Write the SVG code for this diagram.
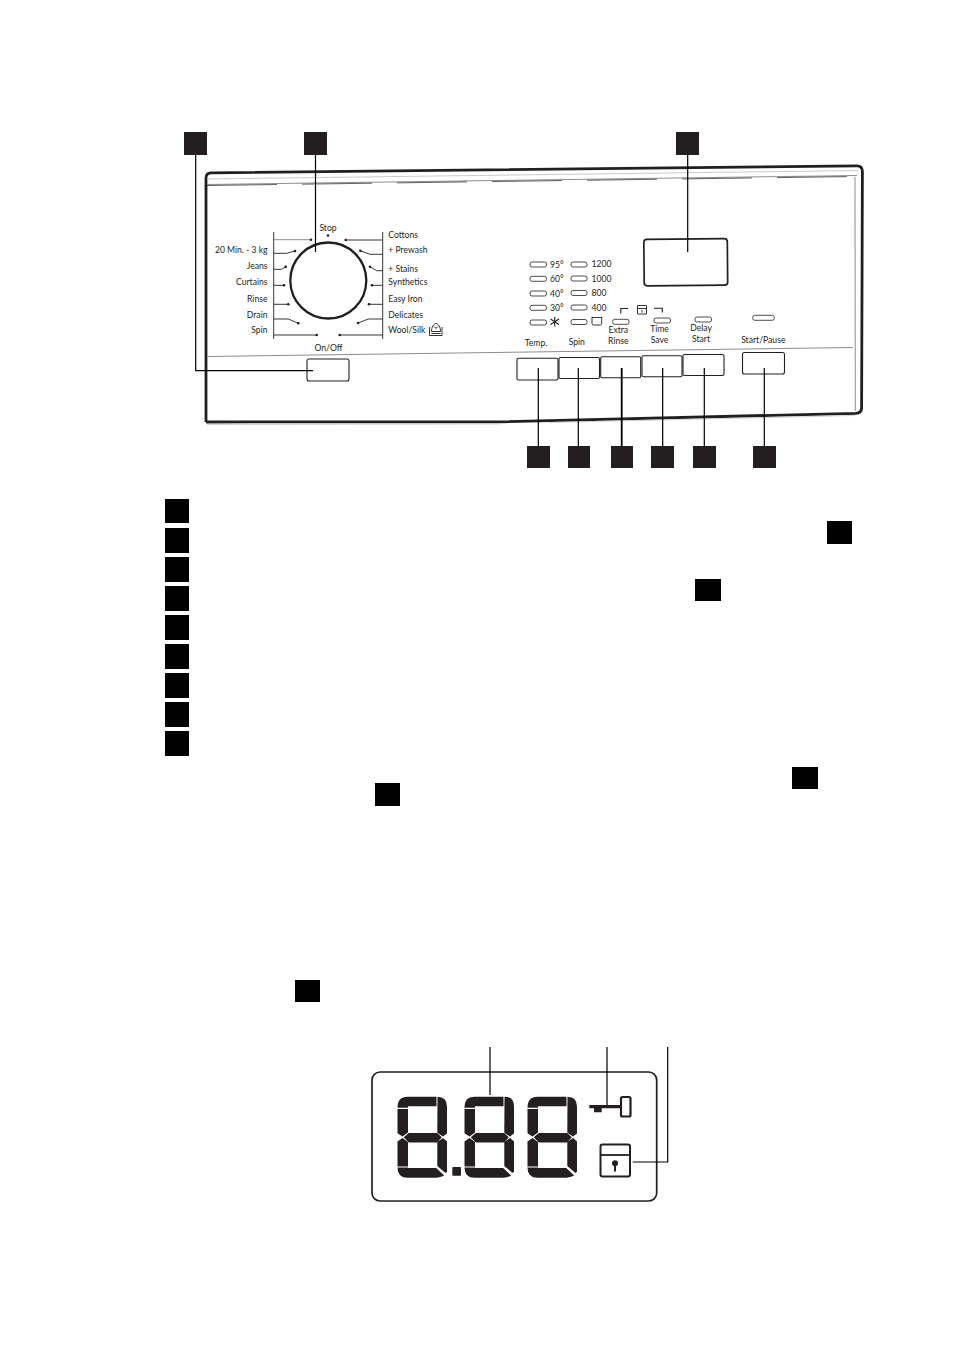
<svg xmlns="http://www.w3.org/2000/svg" width="954" height="1351" viewBox="0 0 954 1351">
<style>
text{font-family:"Lato","Liberation Sans",sans-serif;font-size:8.6px;fill:#231f20}
.e{text-anchor:end}.m{text-anchor:middle}
.sq{fill:#000}.bk{fill:#231f20}
.l{fill:none;stroke:#231f20;stroke-width:1.1}
.g{fill:none;stroke:#8f8d8d;stroke-width:1}
.led{fill:#fff;stroke:#231f20;stroke-width:.8}
.btn{fill:#fff;stroke:#231f20;stroke-width:1.1}
.tick{fill:none;stroke:#231f20;stroke-width:.9}
.dot{fill:#231f20}
.conn{fill:none;stroke:#000;stroke-width:1.2}
.conn2{fill:none;stroke:#000;stroke-width:1.8}
</style>
<defs>
<g id="digit" fill="#231f20">
<path d="M0,11Q0,0 10,0L39,0L39,9.5L10.5,9.5L10.5,11Z"/>
<path d="M40,0Q49.5,0 49.5,10L49.5,36.8L45.5,39.8L39.8,36L40,0Z"/>
<path d="M0,12.3L10.5,12.3L10.5,35.7L5,39.7L0,36.5Z"/>
<path d="M6.3,40.5L11.3,36.3L39.7,36.3L44.3,40.5L39.7,45.7L11.3,45.7Z"/>
<path d="M0,44.8L5,41.3L10.5,45.3L10.5,69.7L0,69.7Z"/>
<path d="M39.8,45.3L45.5,41.3L49.5,44.8L49.5,74.5L48,76.3L39.8,69.3Z"/>
<path d="M0,70.7L10.5,70.7L10.5,71.3L38.7,71.3L46.7,78.9Q43,81 39,81L10,81Q0,81 0,70.7Z"/>
</g>
</defs>
<g id="panel">
<path d="M206,422V178Q206,173 211,172.8L857,165.8Q862,165.8 862.4,171L861.6,408Q861.5,413 856,413.3L500,421.8L206,422" fill="none" stroke="#231f20" stroke-width="2.8"/>
<path d="M207,184.5L857,175.5" class="g"/>
<path d="M207,185.5L857,176.5" fill="none" stroke="#231f20" stroke-width=".7" stroke-dasharray="70 25"/>
<path d="M207,179L858,170.5" fill="none" stroke="#b5b3b3" stroke-width=".7"/>
<path d="M855,177L855.3,411" class="g"/>
<path d="M207,356.5L853,347.5" class="g"/>
<path d="M207,424.5L500,424M550,422.5L855,415.5" fill="none" stroke="#c9c8c8" stroke-width=".8"/>
</g>
<g id="dial">
<circle cx="328.3" cy="280.5" r="38" fill="#fff" stroke="#231f20" stroke-width="2.3"/>
<path class="tick" d="M273.7,232V339M382.7,232V339"/>
<path class="g" d="M274,239.7H310.5"/>
<path class="tick" d="M274,253.3H286.7L295,251M274,269.3H281.7L285.7,266.7M274,285.3H284M274,304.3H288.3M274,319H288.3L298.3,323.3M274,335H316.7M382.7,240H345.7M382.7,254.3H370L360.3,250.7M382.7,270.7H376.7L370,266.7M382.7,285.3H372M382.7,304.3H369M382.7,319H368.3L358,323M382.7,335H339.7"/>
<g class="dot">
<circle cx="311" cy="239.7" r="1.3"/><circle cx="295" cy="251" r="1.3"/><circle cx="285.7" cy="266.7" r="1.3"/><circle cx="284" cy="285.3" r="1.3"/><circle cx="288.3" cy="304.3" r="1.3"/><circle cx="298.3" cy="323.3" r="1.3"/><circle cx="316.7" cy="335" r="1.3"/>
<circle cx="345.7" cy="240" r="1.3"/><circle cx="360.3" cy="250.7" r="1.3"/><circle cx="370" cy="266.7" r="1.3"/><circle cx="372" cy="285.3" r="1.3"/><circle cx="369" cy="304.3" r="1.3"/><circle cx="358" cy="323" r="1.3"/><circle cx="339.7" cy="335" r="1.3"/><circle cx="328" cy="235.5" r="1.3"/>
</g>
<text class="m" x="328" y="231.3">Stop</text>
<text class="m" x="328.5" y="350.7">On/Off</text>
<text class="e" x="267.5" y="253.3">20 Min. - 3 kg</text>
<text class="e" x="267.5" y="269">Jeans</text>
<text class="e" x="267.5" y="285.3">Curtains</text>
<text class="e" x="267.5" y="302.3">Rinse</text>
<text class="e" x="267.5" y="317.7">Drain</text>
<text class="e" x="267.5" y="333">Spin</text>
<text x="388.3" y="238.3">Cottons</text>
<text x="388.3" y="253">+ Prewash</text>
<text x="388.3" y="272">+ Stains</text>
<text x="388.3" y="285.3">Synthetics</text>
<text x="388.3" y="302">Easy Iron</text>
<text x="388.3" y="317.7">Delicates</text>
<text x="388.3" y="333">Wool/Silk</text>
<path class="tick" d="M429.5,327V335.5H442V327M431.5,331.5C431.5,327 433.5,324 436,323.5C438.5,324 440.5,327 440.5,331.5ZM431.5,333.5H440.5M434,326.5L436,328.5L437.5,326.5"/>
</g>
<g id="onoff"><rect class="btn" x="307" y="359" width="42" height="22" rx="2"/></g>
<g id="display"><rect x="644" y="239" width="83.5" height="46.5" rx="3" fill="#fff" stroke="#231f20" stroke-width="1.7" transform="rotate(-.5 686 262)"/></g>
<g id="indicators">
<rect class="led" x="530" y="262" width="16.5" height="5" rx="2"/><rect class="led" x="530" y="276.3" width="16.5" height="5" rx="2"/><rect class="led" x="530" y="291" width="16.5" height="5" rx="2"/><rect class="led" x="530" y="305.3" width="16.5" height="5" rx="2"/><rect class="led" x="530" y="320" width="16.5" height="5" rx="2"/>
<rect class="led" x="571" y="262" width="16" height="5" rx="2"/><rect class="led" x="571" y="276" width="16" height="5" rx="2"/><rect class="led" x="571" y="290.5" width="16" height="5" rx="2"/><rect class="led" x="571" y="305" width="16" height="5" rx="2"/><rect class="led" x="571" y="319.5" width="16" height="5" rx="2"/>
<rect class="led" x="612.7" y="319.3" width="16.3" height="5" rx="2"/><rect class="led" x="654" y="318" width="16.5" height="5" rx="2"/><rect class="led" x="695" y="317" width="16.5" height="5" rx="2"/><rect class="led" x="752.7" y="315.3" width="21.5" height="5" rx="2"/>
<text x="550" y="267.5">95°</text><text x="550" y="282">60°</text><text x="550" y="297">40°</text><text x="550" y="311">30°</text>
<text x="591.5" y="267">1200</text><text x="591.5" y="281.5">1000</text><text x="591.5" y="296">800</text><text x="591.5" y="310.5">400</text>
<path class="l" d="M554.7,317V326.5M550.5,319L559,324.5M559,319L550.5,324.5"/>
<path class="tick" d="M592,316.7V323.3Q592,325 593.5,325H600.3Q601.7,325 601.7,323.3V316.7M592,317.5H601.7"/>
<path class="l" d="M620.8,313.5V308.5H628M654,308.3H662.3V312.5"/>
<path class="tick" d="M637.5,305.5H646.5V314H637.5ZM637.5,308.5H646.5M642,310V312.5"/>
<text class="m" x="536" y="345.7">Temp.</text>
<text class="m" x="576.8" y="345">Spin</text>
<text class="m" x="618.3" y="333.3">Extra</text><text class="m" x="618.3" y="343.7">Rinse</text>
<text class="m" x="659.5" y="332.3">Time</text><text class="m" x="659.5" y="342.7">Save</text>
<text class="m" x="701" y="331.3">Delay</text><text class="m" x="701" y="341.7">Start</text>
<text class="m" x="763.3" y="343">Start/Pause</text>
</g>
<g id="buttons">
<rect class="btn" x="517" y="358.3" width="41" height="21.7" rx="1.5"/>
<rect class="btn" x="559" y="357.5" width="40.5" height="21" rx="1.5"/>
<rect class="btn" x="600.7" y="356.7" width="40" height="21" rx="1.5"/>
<rect class="btn" x="642" y="355.7" width="40" height="21" rx="1.5"/>
<rect class="btn" x="683" y="354.5" width="41" height="21" rx="1.5"/>
<rect class="btn" x="742.5" y="352.5" width="42" height="21.5" rx="2"/>
</g>
<g id="callouts">
<rect class="bk" x="184" y="132" width="23" height="23"/><rect class="bk" x="304" y="132" width="23" height="23"/><rect class="bk" x="676" y="132" width="23" height="23"/>
<rect class="bk" x="527" y="446" width="23" height="22"/><rect class="bk" x="568" y="446" width="22" height="22"/><rect class="bk" x="611" y="446" width="22" height="22"/><rect class="bk" x="651" y="446" width="23" height="22"/><rect class="bk" x="693" y="446" width="23" height="22"/><rect class="bk" x="753" y="446" width="23" height="22"/>
</g>
<g id="list-markers">
<rect class="sq" x="165" y="499" width="24" height="24"/><rect class="sq" x="165" y="528" width="24" height="25"/><rect class="sq" x="165" y="557" width="24" height="25"/><rect class="sq" x="165" y="586" width="24" height="25"/><rect class="sq" x="165" y="615" width="24" height="25"/><rect class="sq" x="165" y="644" width="24" height="25"/><rect class="sq" x="165" y="673" width="24" height="25"/><rect class="sq" x="165" y="702" width="24" height="25"/><rect class="sq" x="165" y="731" width="24" height="25"/>
<rect class="sq" x="827" y="521" width="25" height="23"/><rect class="sq" x="695" y="579" width="26" height="22"/><rect class="sq" x="792" y="767" width="26" height="22"/><rect class="sq" x="375" y="783" width="25" height="23"/><rect class="sq" x="295" y="980" width="25" height="22"/>
</g>
<g id="lcd">
<rect x="372" y="1072" width="284.7" height="129" rx="8" fill="#fff" stroke="#231f20" stroke-width="1.7"/>
<use href="#digit" x="397.5" y="1096.7"/>
<use href="#digit" x="464.5" y="1096.7"/>
<use href="#digit" x="527.5" y="1096.7"/>
<rect class="bk" x="452.3" y="1167" width="8.7" height="8.7" rx="1"/>
<path class="bk" d="M589.3,1105H620V1108.3H601.7V1112.3H594V1108.3H589.3Z"/>
<rect x="621" y="1097" width="9.5" height="19.5" rx="1.5" fill="#fff" stroke="#231f20" stroke-width="2.2"/>
<rect x="600.5" y="1144.5" width="29.5" height="32" rx="2" fill="#fff" stroke="#231f20" stroke-width="2"/>
<path d="M600.5,1155H630" fill="none" stroke="#231f20" stroke-width="1.8"/>
<circle class="bk" cx="615" cy="1163.3" r="3"/><rect class="bk" x="614" y="1164" width="2" height="7.5"/>
</g>
<g id="connectors">
<path class="conn" d="M195.7,155V370.7H313M315.5,155V252M687.7,155V252"/>
<path class="conn" d="M538.3,368V446M578.3,368V446M662.7,368V446M704.3,368V446M764.3,368V446"/>
<path class="conn2" d="M621.7,368V446"/>
<path class="conn" d="M490,1047V1095M607,1047V1105M667.7,1047V1162H632.7"/>
</g>
</svg>
